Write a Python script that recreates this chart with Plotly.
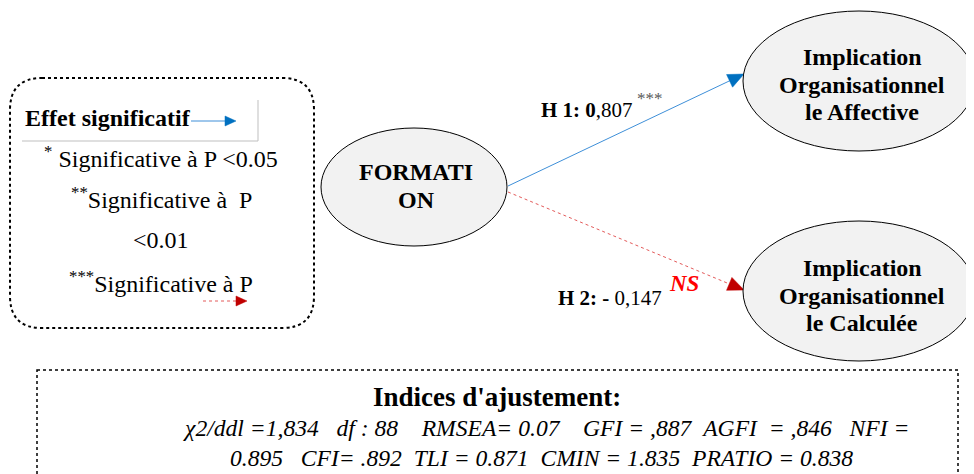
import plotly.graph_objects as go
import numpy as np

W, H = 974, 474
OFF = 8  # default page body margin
FONT = "Liberation Serif"

# ---- diagram content ----
node_cx = [414, 859, 859]
node_cy = [187, 81, 291]
node_rx = [93, 116, 116]
node_ry = [59, 70, 70]
node_lines = [["FORMATI", "ON"],
              ["Implication", "Organisationnel", "le Affective"],
              ["Implication", "Organisationnel", "le Calculée"]]
node_line_y = [[172, 200], [57, 85, 112], [268, 296, 323]]
node_text_x = [416, 862, 862]

edge_start = [(508, 186), (508, 192)]
edge_end = [(744, 74), (744, 290)]
edge_line_color = ["#3E8FD8", "#E35A5A"]
edge_head_color = ["#0070C0", "#C00000"]
edge_dash = ["solid", "dot"]

edge_labels = ["<b>H 1: 0</b>,807", "<b>H 2: -</b> 0,147"]
edge_label_pos = [(587, 110), (610, 298)]

legend_lines = ["<sup>*</sup> Significative à P <0.05",
                "<sup>**</sup>Significative à \u00a0P",
                "<0.01",
                "<sup>***</sup>Significative à P"]
legend_y = [157, 198, 240, 282]

fit_title = "<b>Indices d'ajustement:</b>"
fit_lines = ["<i>χ2/ddl =1,834 \u00a0 df : 88 \u00a0\u00a0 RMSEA= 0.07 \u00a0\u00a0 GFI = ,887 \u00a0AGFI \u00a0= ,846 \u00a0 NFI =</i>",
             "<i>0.895 \u00a0 CFI= .892 \u00a0TLI = 0.871 \u00a0CMIN = 1.835 \u00a0PRATIO = 0.838</i>"]
fit_line_y = [428, 458]
fit_line_x = [546, 541]

fig = go.Figure()
shapes = []
annotations = []


def arrow_head(x0, y0, x1, y1, length=16, half=7):
    d = np.array([x1 - x0, y1 - y0], dtype=float)
    d /= np.linalg.norm(d)
    n = np.array([-d[1], d[0]])
    tip = np.array([x1, y1], dtype=float)
    base = tip - d * length
    p1 = base + n * half
    p2 = base - n * half
    return f"M {tip[0]},{tip[1]} L {p1[0]},{p1[1]} L {p2[0]},{p2[1]} Z"


def rounded_rect(x0, y0, x1, y1, r):
    return (f"M {x0+r},{y0} L {x1-r},{y0} Q {x1},{y0} {x1},{y0+r} "
            f"L {x1},{y1-r} Q {x1},{y1} {x1-r},{y1} L {x0+r},{y1} "
            f"Q {x0},{y1} {x0},{y1-r} L {x0},{y0+r} Q {x0},{y0} {x0+r},{y0} Z")


def txt(x, y, text, size, color="black", xanchor="center"):
    annotations.append(dict(x=x, y=y, text=text, showarrow=False,
                            xanchor=xanchor, yanchor="middle",
                            font=dict(size=size, color=color, family=FONT)))


# legend box
shapes.append(dict(type="path", path=rounded_rect(10, 78, 314, 328, 32),
                   line=dict(color="black", width=2, dash="dot")))
shapes.append(dict(type="line", x0=258, y0=100, x1=258, y1=141,
                   line=dict(color="#BFBFBF", width=1)))
shapes.append(dict(type="line", x0=22, y0=141, x1=258, y1=141,
                   line=dict(color="#BFBFBF", width=1)))
txt(23, 118, "<b>Effet significatif</b>", 24, xanchor="left")
leg_arrows = [((191, 121), (236, 121), "#3E8FD8", "#0070C0", "solid"),
              ((203, 301), (247, 301), "#E35A5A", "#C00000", "dot")]
for (a, b, lc, hc, ds) in leg_arrows:
    shapes.append(dict(type="line", x0=a[0], y0=a[1], x1=b[0] - 10, y1=b[1],
                       line=dict(color=lc, width=1, dash=ds)))
    shapes.append(dict(type="path", path=arrow_head(a[0], a[1], b[0], b[1], 11, 5),
                       fillcolor=hc, line=dict(color=hc, width=0.5)))
for t, y in zip(legend_lines, legend_y):
    txt(161, y, t, 24)

# edges
for (s, e, lc, hc, ds) in zip(edge_start, edge_end, edge_line_color, edge_head_color, edge_dash):
    d = np.array([e[0] - s[0], e[1] - s[1]], dtype=float)
    d /= np.linalg.norm(d)
    ex, ey = e[0] - d[0] * 12, e[1] - d[1] * 12
    shapes.append(dict(type="line", x0=s[0], y0=s[1], x1=ex, y1=ey,
                       line=dict(color=lc, width=1, dash=ds)))
    shapes.append(dict(type="path", path=arrow_head(s[0], s[1], e[0], e[1]),
                       fillcolor=hc, line=dict(color=hc, width=0.5)))

for t, (x, y) in zip(edge_labels, edge_label_pos):
    txt(x, y, t, 21)
txt(650, 98, "***", 17, color="#595959")
txt(684, 283, "<b><i>NS</i></b>", 23, color="#FF0000")

# nodes
for cx, cy, rx, ry, lines, ys, tx in zip(node_cx, node_cy, node_rx, node_ry,
                                         node_lines, node_line_y, node_text_x):
    shapes.append(dict(type="circle", x0=cx - rx, x1=cx + rx, y0=cy - ry, y1=cy + ry,
                       fillcolor="#F2F2F2", line=dict(color="black", width=1)))
    for ln, ly in zip(lines, ys):
        txt(tx, ly, f"<b>{ln}</b>", 24)

# fit indices box
shapes.append(dict(type="rect", x0=37, y0=370, x1=958, y1=500,
                   line=dict(color="black", width=1.5, dash="dot")))
txt(497, 397, fit_title, 27)
for t, x, y in zip(fit_lines, fit_line_x, fit_line_y):
    txt(x, y, t, 23.6)

fig.update_layout(
    width=W - OFF, height=H - OFF, margin=dict(l=0, r=0, t=0, b=0),
    paper_bgcolor="white", plot_bgcolor="white",
    font=dict(family=FONT, color="black"),
    xaxis=dict(range=[OFF, W], visible=False, fixedrange=True),
    yaxis=dict(range=[H, OFF], visible=False, fixedrange=True),
    shapes=shapes, annotations=annotations, showlegend=False,
)
fig.write_html("out.html")
